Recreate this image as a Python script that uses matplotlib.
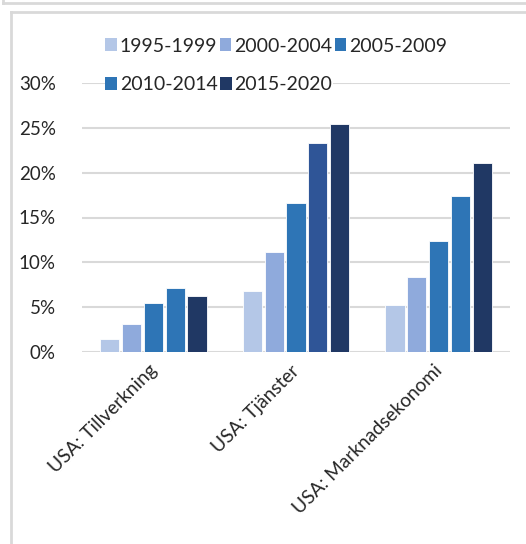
import matplotlib
matplotlib.use("Agg")
import matplotlib.pyplot as plt
from matplotlib.patches import Patch
from matplotlib.lines import Line2D
from matplotlib.ticker import FuncFormatter
from matplotlib.transforms import ScaledTranslation
import numpy as np

plt.rcParams['font.family'] = ['Lato', 'DejaVu Sans']

categories = ["USA: Tillverkning", "USA: Tjänster", "USA: Marknadsekonomi"]
series = ["1995-1999", "2000-2004", "2005-2009", "2010-2014", "2015-2020"]
values = {
    "1995-1999": [1.5, 6.8, 5.2],
    "2000-2004": [3.1, 11.1, 8.4],
    "2005-2009": [5.5, 16.6, 12.4],
    "2010-2014": [7.1, 23.3, 17.4],
    "2015-2020": [6.3, 25.4, 21.1],
}
yticks = [0, 5, 10, 15, 20, 25, 30]

legend_colors = ["#B4C7E7", "#8FAADC", "#2E75B6", "#2E75B6", "#203864"]
bar_colors = [
    ["#B4C7E7"] * 3,
    ["#8FAADC"] * 3,
    ["#2E75B6"] * 3,
    ["#2E75B6", "#2F5597", "#2E75B6"],
    ["#203864"] * 3,
]

W, H = 526, 544
fig = plt.figure(figsize=(W / 100, H / 100), dpi=100)
fig.patch.set_facecolor("white")

def fx(px):
    return px / W

def fy(py):
    return 1 - py / H

ax = fig.add_axes([fx(82), fy(352), fx(510) - fx(82), fy(83) - fy(352)])
x = np.arange(len(categories))
step = 0.153
width = 0.135
for i, s in enumerate(series):
    ax.bar(x + (i - 2) * step, values[s], width=width, color=bar_colors[i],
           edgecolor="white", linewidth=0.6, zorder=3)

ax.set_xlim(-0.5, 2.5)
ax.set_ylim(0, 30)
ax.set_yticks(yticks)
ax.yaxis.set_major_formatter(FuncFormatter(lambda v, p: f"{int(v)}%"))
ax.grid(axis="y", color="#d9d9d9", linewidth=1.5, zorder=0)
for sp in ax.spines.values():
    sp.set_visible(False)
ax.tick_params(axis="y", length=0, pad=19, labelsize=13.5, labelcolor="#262626")
ax.tick_params(axis="x", length=0, pad=5)
ax.set_xticks(x)
ax.set_xticklabels(categories, rotation=45, ha="right", va="top",
                   rotation_mode="anchor", fontsize=13.8, color="#262626")
offset = ScaledTranslation(-5 / 100, -3 / 100, fig.dpi_scale_trans)
for lbl in ax.get_xticklabels():
    lbl.set_transform(lbl.get_transform() + offset)
ax.set_axisbelow(True)

handles = [Patch(facecolor=c, edgecolor="none") for c in legend_colors]
common = dict(frameon=True, fontsize=14.0, handlelength=0.6, handleheight=0.6,
              handletextpad=0.16, columnspacing=0.12, borderpad=0.0,
              borderaxespad=0.0, loc="center left", labelcolor="#262626")
leg1 = fig.legend(handles[:3], series[:3], ncol=3,
                  bbox_to_anchor=(fx(105), fy(46)), **common)
leg2 = fig.legend(handles[3:], series[3:], ncol=2,
                  bbox_to_anchor=(fx(105), fy(85)), **common)
for lg in (leg1, leg2):
    lg.get_frame().set_facecolor("white")
    lg.get_frame().set_edgecolor("none")
    lg.get_frame().set_alpha(1)

# outer frames
fc = "#d9d9d9"
fig.add_artist(Line2D([fx(11), fx(11)], [fy(12), fy(560)], color=fc, lw=2))
fig.add_artist(Line2D([fx(11), fx(540)], [fy(12), fy(12)], color=fc, lw=2))
fig.add_artist(Line2D([fx(3), fx(540)], [fy(3), fy(3)], color=fc, lw=2))
fig.add_artist(Line2D([fx(3), fx(3)], [fy(-5), fy(3)], color=fc, lw=2))

fig.savefig("out.png", dpi=100, facecolor="white")
